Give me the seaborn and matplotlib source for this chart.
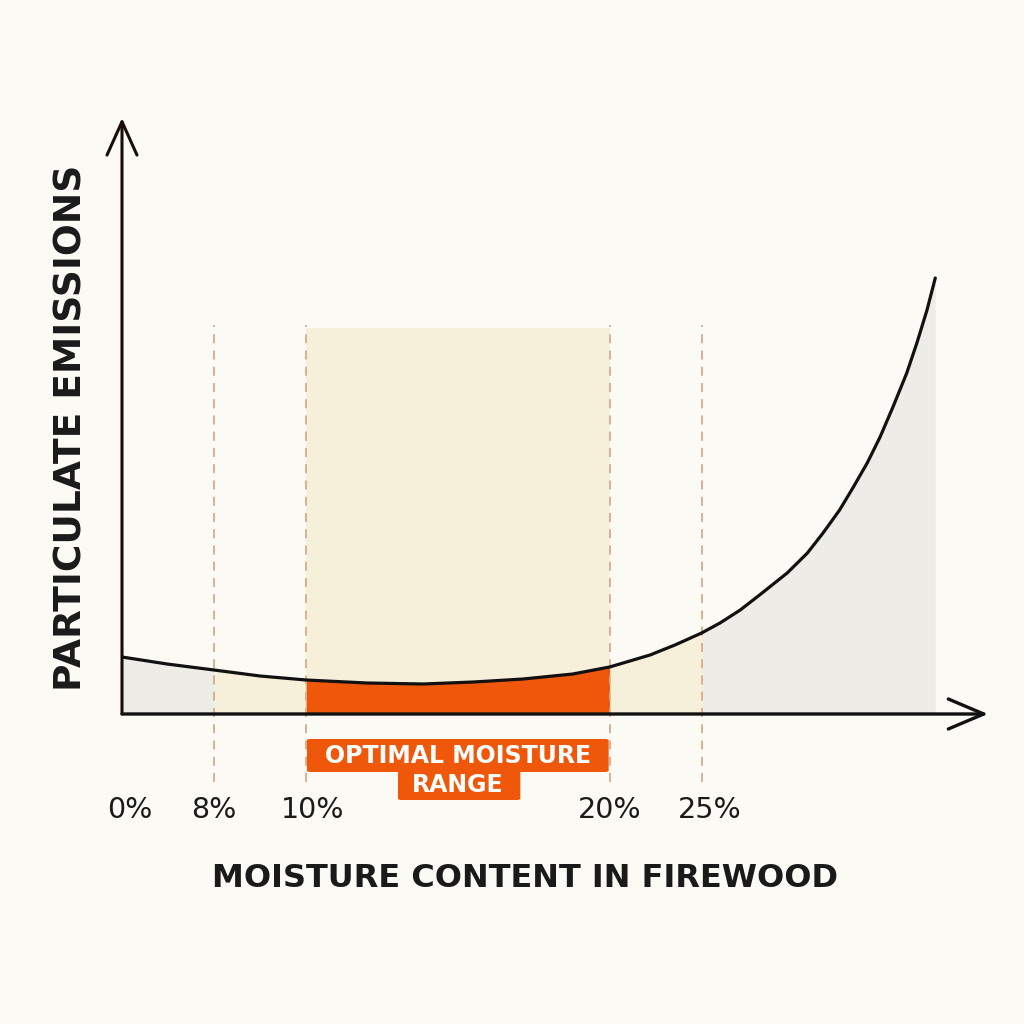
import matplotlib
matplotlib.use("Agg")
import matplotlib.pyplot as plt
from matplotlib.patches import FancyBboxPatch
from matplotlib.transforms import ScaledTranslation
import seaborn as sns
import numpy as np
import pandas as pd

# ---- data (schematic positions: tick slots on a non-linear moisture axis) ----
tick_pos = [0, 1, 2, 5.3, 6.3]
tick_labels = ["0%", "8%", "10%", "20%", "25%"]
curve_pos = [0, 0.49, 1, 1.5, 2, 2.66, 3.27, 3.82, 4.36, 4.9, 5.3, 5.74, 6.01, 6.3,
             6.5, 6.72, 6.93, 7.23, 7.45, 7.62, 7.80, 7.95, 8.10, 8.24, 8.38,
             8.53, 8.64, 8.75, 8.84]
emissions = [57, 50, 44, 38, 34, 31, 30, 32, 35, 40, 47, 59, 69, 81,
             91, 104, 119, 141, 161, 181, 204, 227, 251, 277, 307,
             341, 371, 404, 436]
optimal_range = (2, 5.3)      # 10% .. 20%
acceptable_range = (1, 6.3)   # 8% .. 25%
band_top = 386
x_title = "MOISTURE CONTENT IN FIREWOOD"
y_title = "PARTICULATE EMISSIONS"
badge_lines = ["OPTIMAL MOISTURE", "RANGE"]

BG = "#fbfaf5"
GRAY = "#eeece7"
CREAM = "#f6f0da"
ORANGE = "#ef580b"
DASH = "#d8ab8c"
INK = "#111111"

sns.set_theme(style="white")
plt.rcParams["font.family"] = ["DejaVu Sans"]

df = pd.DataFrame({"pos": curve_pos, "emis": emissions})
x = df["pos"].to_numpy()
y = df["emis"].to_numpy()

fig = plt.figure(figsize=(10.24, 10.24), dpi=100, facecolor=BG)
W = 1024
ax = fig.add_axes([122 / W, (1024 - 714) / W, 866 / W, 596 / W])
ax.set_facecolor(BG)
ax.set_xlim(0, 866 / 92)
ax.set_ylim(0, 596)

# band behind
ax.fill_between([optimal_range[0], optimal_range[1]], 0, band_top, color=CREAM, lw=0, zorder=1)

# fills under curve
lo, hi = acceptable_range
ax.fill_between(x, 0, y, where=(x <= lo), color=GRAY, lw=0, zorder=2)
ax.fill_between(x, 0, y, where=(x >= hi), color=GRAY, lw=0, zorder=2)
ax.fill_between(x, 0, y, where=(x >= lo) & (x <= optimal_range[0]), color=CREAM, lw=0, zorder=2)
ax.fill_between(x, 0, y, where=(x >= optimal_range[1]) & (x <= hi), color=CREAM, lw=0, zorder=2)
ax.fill_between(x, 0, y, where=(x >= optimal_range[0]) & (x <= optimal_range[1]),
                color=ORANGE, lw=0, zorder=2)

# dashed guides
for p in tick_pos[1:]:
    ax.plot([p, p], [-68, 389], color=DASH, lw=1.3, ls=(0, (5, 4)), clip_on=False, zorder=3)

# curve
sns.lineplot(data=df, x="pos", y="emis", ax=ax, color=INK, lw=2.3, zorder=5,
             estimator=None, sort=False)

# axes arrows
ax.annotate("", xy=(1, 0), xytext=(0, 0), xycoords="axes fraction",
            arrowprops=dict(arrowstyle="->,head_length=0.85,head_width=0.36", lw=2.4,
                            color=INK, mutation_scale=30, shrinkA=0, shrinkB=0),
            zorder=6, annotation_clip=False)
ax.annotate("", xy=(0, 1), xytext=(0, 0), xycoords="axes fraction",
            arrowprops=dict(arrowstyle="->,head_length=0.8,head_width=0.36", lw=2.2,
                            color="#1a0d08", mutation_scale=30, shrinkA=0, shrinkB=0),
            zorder=6, annotation_clip=False)

for s in ax.spines.values():
    s.set_visible(False)

ax.set_yticks([])
ax.set_xticks(tick_pos)
ax.set_xticklabels(tick_labels, fontsize=20.5, color="#1a1a1a")
ax.tick_params(axis="x", length=0, pad=59)
label_shift_px = [8, 0, 7, 0, 8]
for lab, dx in zip(ax.get_xticklabels(), label_shift_px):
    lab.set_transform(lab.get_transform() + ScaledTranslation(dx / 100, 0, fig.dpi_scale_trans))

ax.set_xlabel(x_title, fontsize=23, fontweight="bold", color="#1a1a1a")
ax.xaxis.set_label_coords(0.465, -0.25)
ax.xaxis.label.set_va("top")
ax.set_ylabel(y_title, fontsize=27, fontweight="bold", color="#1a1a1a")
ax.yaxis.set_label_coords(-0.058, 0.48)
ax.yaxis.label.set_va("center")

# badge (two-tier orange label under the optimal band)
ax.add_patch(FancyBboxPatch((optimal_range[0] + 0.01, -58), optimal_range[1] - optimal_range[0] - 0.02, 33,
                            boxstyle="round,pad=0,rounding_size=0.04", fc=ORANGE, ec="none",
                            clip_on=False, zorder=6, mutation_aspect=30))
ax.add_patch(FancyBboxPatch((3.0, -86), 1.33, 30,
                            boxstyle="round,pad=0,rounding_size=0.04", fc=ORANGE, ec="none",
                            clip_on=False, zorder=6, mutation_aspect=30))
cx = (optimal_range[0] + optimal_range[1]) / 2
ax.text(cx, -42, badge_lines[0], ha="center", va="center", fontsize=17, fontweight="bold",
        color="white", zorder=7, clip_on=False)
ax.text(cx, -71, badge_lines[1], ha="center", va="center", fontsize=17, fontweight="bold",
        color="white", zorder=7, clip_on=False)

fig.savefig("out.png", dpi=100, facecolor=BG)
